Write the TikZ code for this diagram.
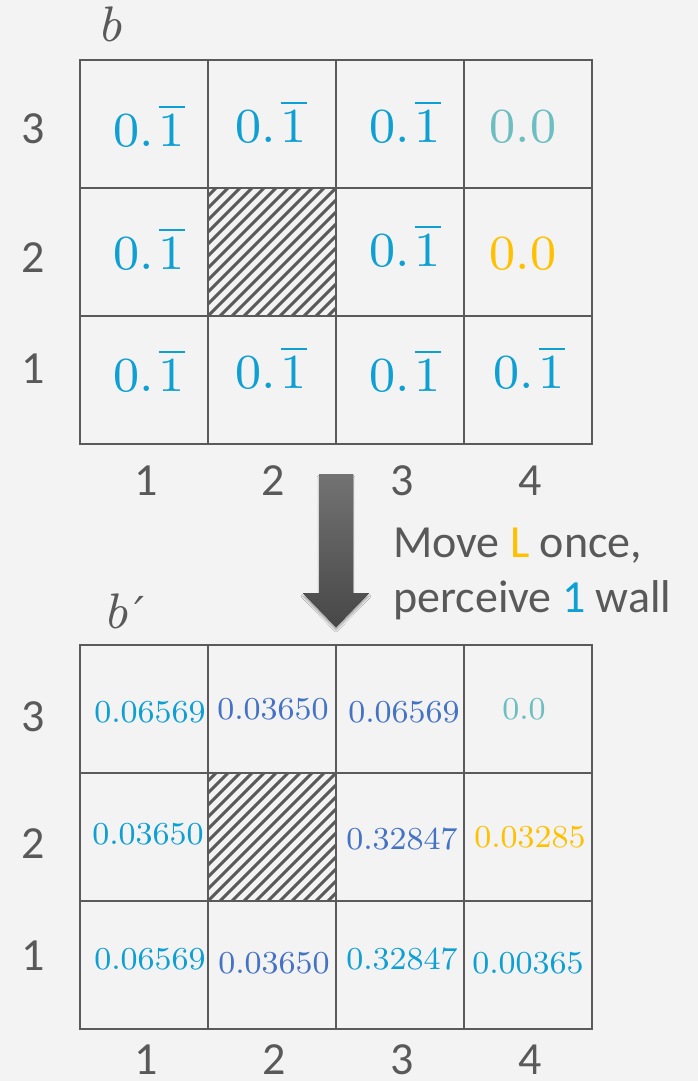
\documentclass[tikz,border=0pt]{standalone}
\usepackage{fontspec}
\usepackage{unicode-math}
\setmainfont{Carlito}
\setmathfont{Latin Modern Math}
\newfontfamily\numfont[Extension=.otf, UprightFont=lmroman8-regular, ItalicFont=lmroman8-italic]{lmroman8-regular}
\newfontfamily\primefont{DejaVu Serif}
\usetikzlibrary{shadows.blur}
\definecolor{bg}{HTML}{F3F3F3}
\definecolor{gridc}{HTML}{5A5A5A}
\definecolor{txt}{HTML}{595959}
\definecolor{cyanv}{HTML}{0E9FD3}
\definecolor{bluev}{HTML}{4472C4}
\definecolor{tealv}{HTML}{6CBEC0}
\definecolor{yelv}{HTML}{FFC000}
\tikzset{
  cell/.style={draw=gridc, line width=2.5pt, minimum width=128pt, minimum height=128pt, inner sep=0pt, outer sep=0pt},
  lbl/.style={font=\fontsize{46}{55}\selectfont, text=txt, inner sep=0pt, anchor=base},
  title/.style={font=\numfont\itshape\fontsize{50}{55}\selectfont, text=txt, inner sep=0pt, anchor=base},
  bignum/.style={font=\numfont\fontsize{49}{50}\selectfont, inner sep=0pt, anchor=base},
  smallnum/.style={font=\numfont\fontsize{32}{36}\selectfont, inner sep=0pt, anchor=base},
  hatchline/.style={draw=gridc, line width=3pt},
}
\newcommand\rep{0.\kern0.1em$\overline{\mbox{1}}$}
\begin{document}
\begin{tikzpicture}[x=1pt,y=-1pt]
\fill[bg] (0,0) rectangle (698,1081);
\useasboundingbox (0,0) rectangle (698,1081);

% top grid cells
\foreach \c/\x in {1/144,2/272,3/400,4/528}{
  \foreach \r/\y in {3/124,2/252,1/380}{
    \node[cell] (t\c\r) at (\x,\y) {};
  }
}
% bottom grid cells
\foreach \c/\x in {1/144,2/272,3/400,4/528}{
  \foreach \r/\y in {3/709,2/837,1/965}{
    \node[cell] (u\c\r) at (\x,\y) {};
  }
}
% hatched wall cells
\begin{scope}
  \clip (t22.north west) rectangle (t22.south east);
  \foreach \i in {-12,...,12}{
    \draw[hatchline] ([xshift=\i*12pt]t22.south west) -- ++(128,-128);
  }
\end{scope}
\begin{scope}
  \clip (u22.north west) rectangle (u22.south east);
  \foreach \i in {-12,...,12}{
    \draw[hatchline] ([xshift=\i*12pt]u22.south west) -- ++(128,-128);
  }
\end{scope}
\node[cell] (t22b) at (t22) {};
\node[cell] (u22b) at (u22) {};

% titles
\node[title] (bt) at (110,42) {b};
\node[title] (bb) at (124,628) {b\kern6pt{\primefont\fontsize{44}{50}\selectfont ′}};

% row labels top
\node[lbl] (tr3) at (33,143) {3};
\node[lbl] (tr2) at (33,272) {2};
\node[lbl] (tr1) at (33,383) {1};
% column labels top
\node[lbl] (tc1) at (146,495) {1};
\node[lbl] (tc2) at (273,495) {2};
\node[lbl] (tc3) at (402,495) {3};
\node[lbl] (tc4) at (530,495) {4};
% row labels bottom
\node[lbl] (br3) at (33,731) {3};
\node[lbl] (br2) at (33,858) {2};
\node[lbl] (br1) at (33,970) {1};
% column labels bottom
\node[lbl] (bc1) at (146,1074) {1};
\node[lbl] (bc2) at (274,1074) {2};
\node[lbl] (bc3) at (402,1074) {3};
\node[lbl] (bc4) at (530,1074) {4};

% top values
\node[bignum, text=cyanv] (v13) at (149,146) {\rep};
\node[bignum, text=cyanv] (v23) at (271,142) {\rep};
\node[bignum, text=cyanv] (v33) at (405,142) {\rep};
\node[bignum, text=tealv] (v43) at (523,142) {0.0};
\node[bignum, text=cyanv] (v12) at (149,269) {\rep};
\node[bignum, text=cyanv] (v32) at (405,266) {\rep};
\node[bignum, text=yelv]  (v42) at (523,269) {0.0};
\node[bignum, text=cyanv] (v11) at (149,391) {\rep};
\node[bignum, text=cyanv] (v21) at (271,388) {\rep};
\node[bignum, text=cyanv] (v31) at (405,391) {\rep};
\node[bignum, text=cyanv] (v41) at (529,388) {\rep};

% bottom values
\node[smallnum, text=cyanv] (w13) at (150,722) {0.06569};
\node[smallnum, text=bluev] (w23) at (273,719) {0.03650};
\node[smallnum, text=bluev] (w33) at (404,722) {0.06569};
\node[smallnum, text=tealv] (w43) at (524,719) {0.0};
\node[smallnum, text=cyanv] (w12) at (148,844) {0.03650};
\node[smallnum, text=bluev] (w32) at (402,849) {0.32847};
\node[smallnum, text=yelv]  (w42) at (530,847) {0.03285};
\node[smallnum, text=cyanv] (w11) at (150,969) {0.06569};
\node[smallnum, text=bluev] (w21) at (274,973) {0.03650};
\node[smallnum, text=cyanv] (w31) at (402,969) {0.32847};
\node[smallnum, text=cyanv] (w41) at (528,973) {0.00365};

% arrow
\fill[top color=black!55, bottom color=black!72,
      blur shadow={shadow xshift=0pt, shadow yshift=-3pt, shadow blur steps=6, shadow opacity=35}]
  (319,474) -- (353,474) -- (353,593) -- (369,593) -- (336,627) -- (303,593) -- (319,593) -- cycle;

% caption
\node[lbl, anchor=base west] (cap1) at (393,557) {Move {\color{yelv}L} once,};
\node[lbl, anchor=base west] (cap2) at (393,612) {perceive {\color{cyanv}1} wall};
\end{tikzpicture}
\end{document}
